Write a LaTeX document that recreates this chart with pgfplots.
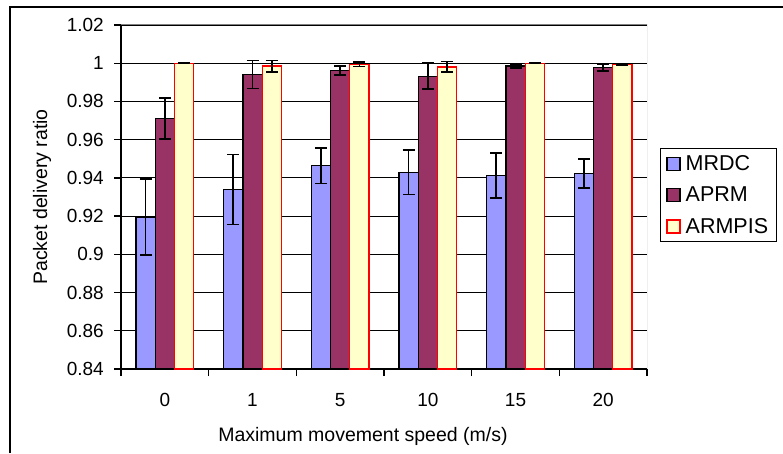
\documentclass[border=0pt]{standalone}
\usepackage{fontspec}
\setmainfont{Liberation Sans}
\usepackage{pgfplots}
\pgfplotsset{compat=1.18}
\usepackage{pgfplotstable}
\definecolor{mrdc}{RGB}{153,153,255}
\definecolor{aprm}{RGB}{153,51,102}
\definecolor{armpis}{RGB}{255,255,204}

\pgfplotstableread{
x y err
0 0.9196 0.0199
1 0.9339 0.0183
2 0.9464 0.0093
3 0.9430 0.0117
4 0.9412 0.0117
5 0.9423 0.0075
}\mrdctab
\pgfplotstableread{
x y err
0 0.9710 0.0108
1 0.9941 0.0073
2 0.9962 0.0024
3 0.9932 0.0068
4 0.9985 0.0010
5 0.9976 0.0018
}\aprmtab
\pgfplotstableread{
x y err
0 1.0000 0.0002
1 0.9985 0.0030
2 0.9995 0.0012
3 0.9981 0.0028
4 1.0000 0.0002
5 0.9995 0.0004
}\armpistab

\begin{document}
\begin{tikzpicture}
\useasboundingbox (0,0) rectangle (783pt,453pt);
\draw[line width=1.3pt] (10pt,0) -- (10pt,446pt) -- (783pt,446pt);
\begin{axis}[
  at={(121pt,84pt)}, anchor=south west,
  scale only axis, width=526pt, height=344pt,
  ybar=0pt, bar width=19.3pt,
  xmin=-0.5, xmax=5.5, ymin=0.84, ymax=1.02,
  axis x line*=bottom, axis y line*=left,
  axis line style={black, line width=1.3pt},
  xtick={-0.5,0.5,1.5,2.5,3.5,4.5,5.5}, xticklabels={},
  extra x ticks={0,1,2,3,4,5},
  extra x tick labels={0,1,5,10,15,20},
  extra x tick style={major tick length=0pt, xticklabel style={anchor=base, yshift=-37.7pt}},
  ytick={0.84,0.86,0.88,0.9,0.92,0.94,0.96,0.98,1,1.02},
  yticklabels={0.84,0.86,0.88,0.9,0.92,0.94,0.96,0.98,1,1.02},
  yticklabel style={anchor=east, inner sep=0pt, xshift=-10pt},
  tick align=outside, major tick length=7pt,
  tick style={black, line width=1.3pt},
  ymajorgrids, major grid style={black, line width=0.9pt},
  tick label style={font=\fontsize{19}{22}\selectfont},
  xlabel={Maximum movement speed (m/s)},
  ylabel={Packet delivery ratio},
  label style={font=\fontsize{19.5}{22}\selectfont},
  xlabel style={at={(axis description cs:0.46,-0.211)}, anchor=base},
  ylabel style={at={(axis description cs:-0.150,0.5)}, anchor=center},
  error bars/y dir=both, error bars/y explicit,
  error bars/error bar style={black, line width=1.7pt},
  error bars/error mark options={black, rotate=90, mark size=6pt, line width=1.7pt},
  legend style={at={(1.0247,0.6424)}, anchor=north west, draw=black, line width=0.8pt,
    font=\fontsize{21.5}{24}\selectfont, inner xsep=6pt, inner ysep=5pt, row sep=11pt},
  legend cell align=left,
  legend image code/.code={\draw[line width=1.3pt,#1] (0pt,-6.5pt) rectangle (13pt,6.5pt); \path (16pt,0pt);},
]
\addplot[fill=mrdc, draw=black, line width=1.3pt] table[x=x,y=y,y error=err]{\mrdctab};
\addplot[fill=aprm, draw=black, line width=1.3pt] table[x=x,y=y,y error=err]{\aprmtab};
\addplot[fill=armpis, draw=red, line width=1.3pt] table[x=x,y=y,y error=err]{\armpistab};
\legend{MRDC,APRM,ARMPIS}
\draw[gray, line width=1pt] (rel axis cs:0,1) -- (rel axis cs:1,1) -- (rel axis cs:1,0);
\end{axis}
\end{tikzpicture}
\end{document}
